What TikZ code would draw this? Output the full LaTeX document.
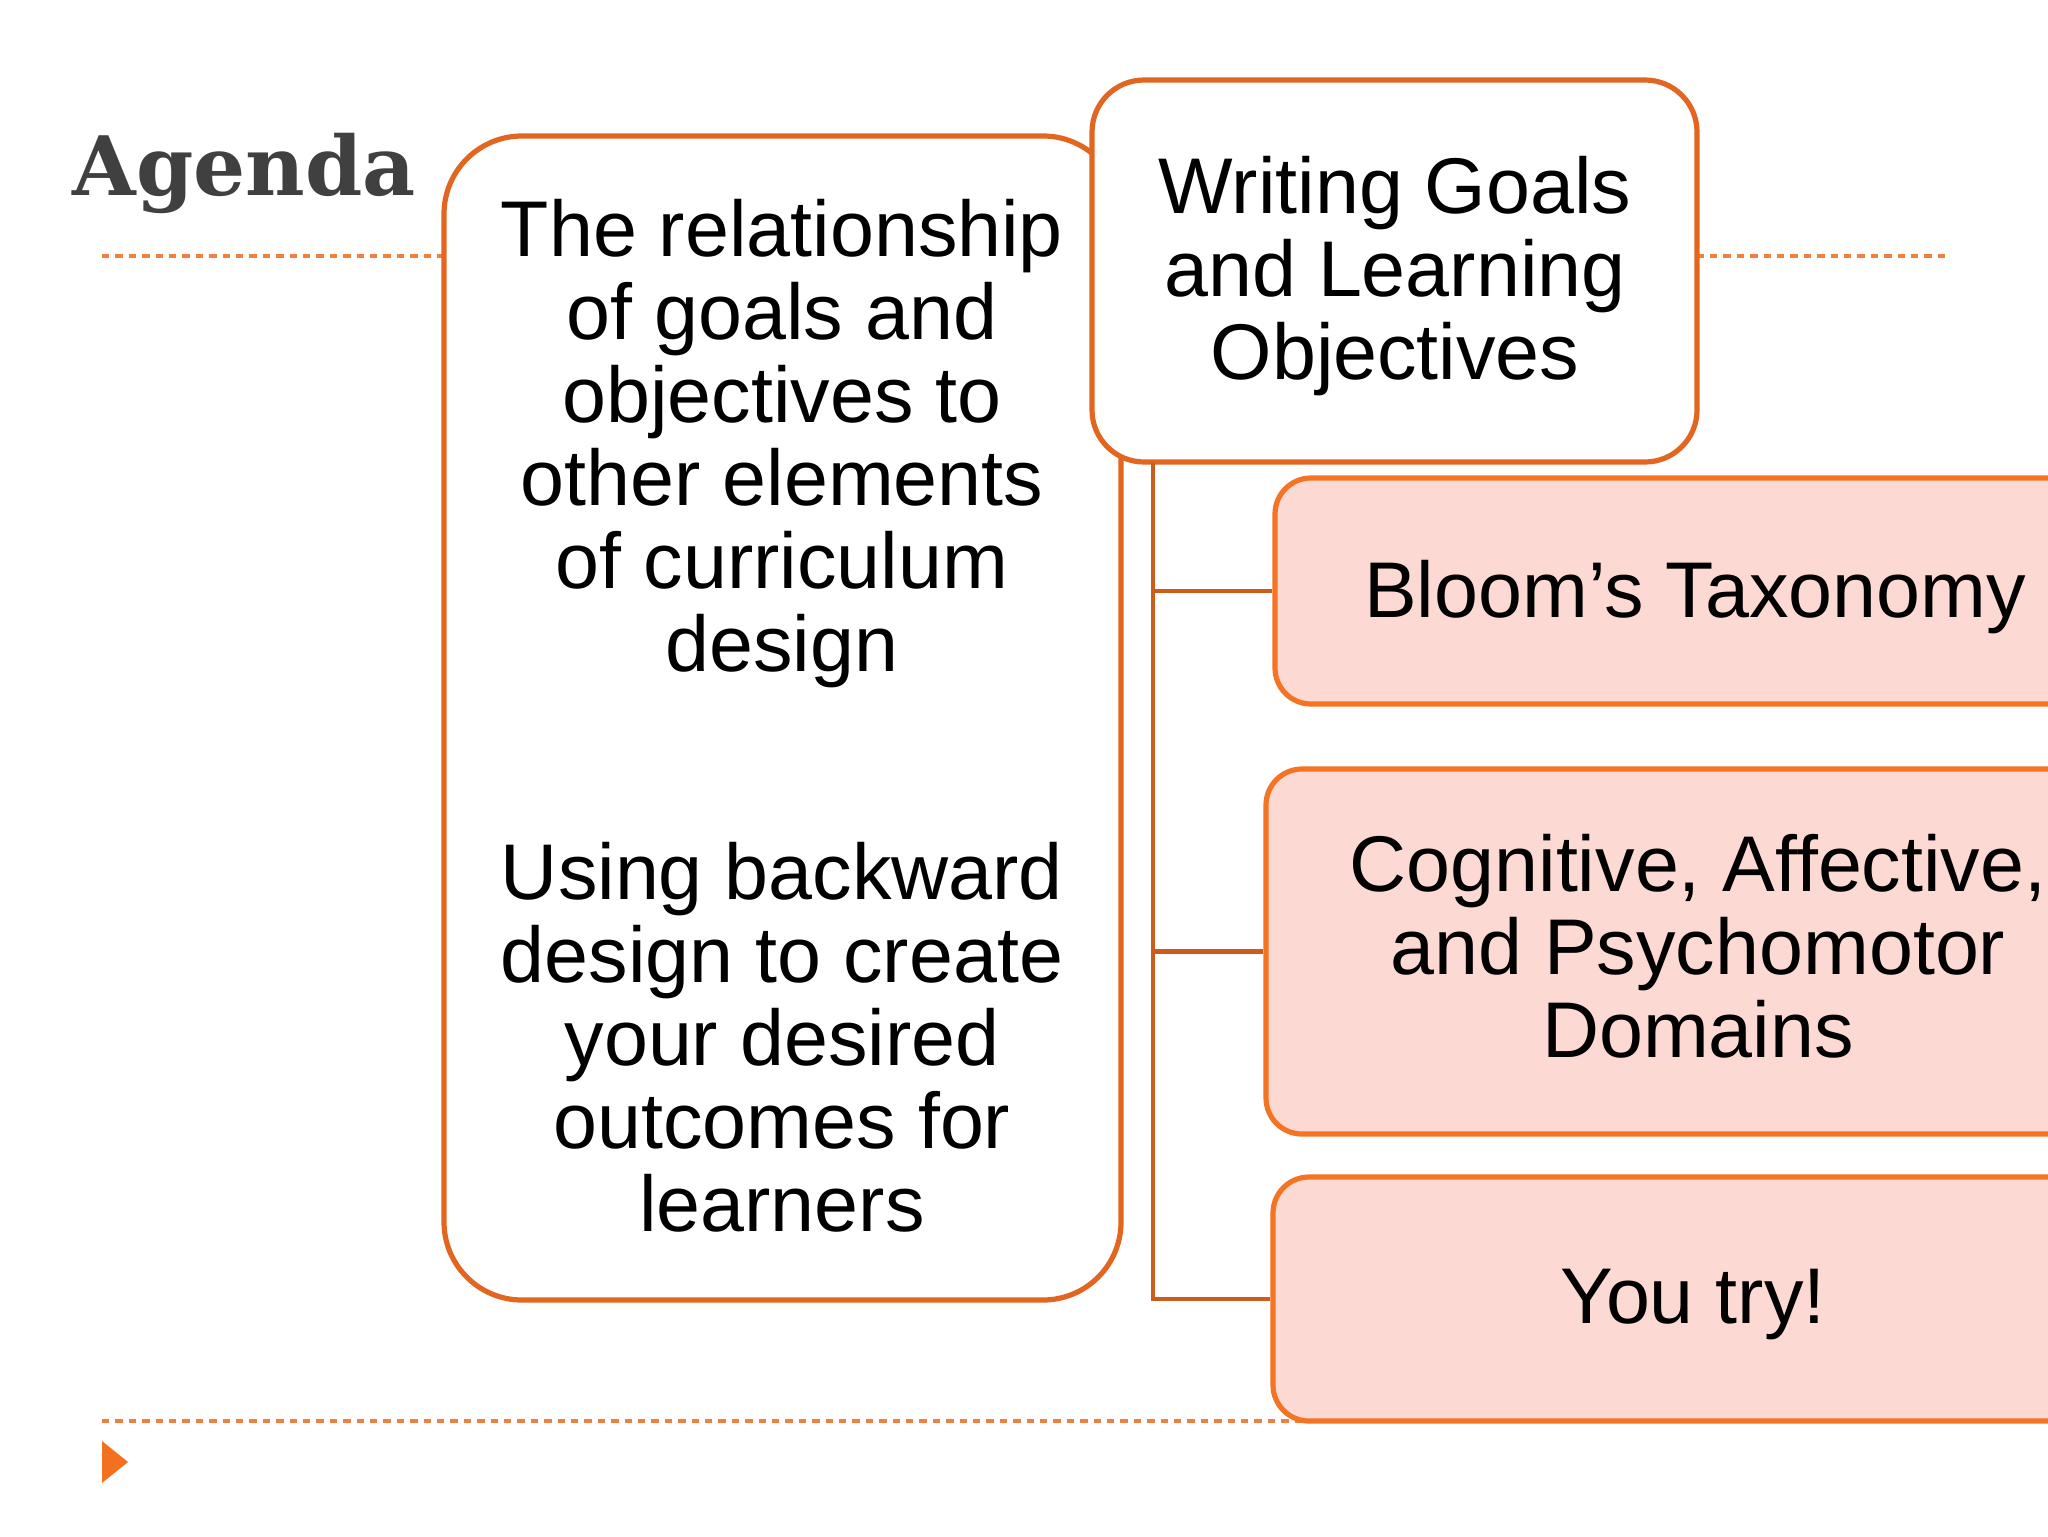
\documentclass[tikz,border=0pt]{standalone}
\usepackage{fontspec}
\setmainfont{Liberation Sans}
\newfontfamily\titlefont{DejaVu Serif}
\definecolor{boxline}{HTML}{E2661F}
\definecolor{pinkline}{HTML}{F47423}
\definecolor{pinkfill}{HTML}{FCD9D3}
\definecolor{connline}{HTML}{CC5C1C}
\definecolor{dashline}{HTML}{EE8040}
\definecolor{triorange}{HTML}{F37021}
\definecolor{titlegray}{HTML}{404040}
\tikzset{
  whitebox/.style={draw=boxline, line width=2.6pt, fill=white, rectangle, inner sep=0pt},
  pinkbox/.style={draw=pinkline, line width=2.6pt, fill=pinkfill, rectangle, rounded corners=18pt, inner sep=0pt},
  bodytext/.style={align=center, inner sep=0pt, anchor=base, font=\fontsize{39.5}{41.5}\selectfont},
  conn/.style={draw=connline, line width=2.2pt},
  rule/.style={draw=dashline, line width=1.6pt, dash pattern=on 3.7pt off 3pt},
}
\begin{document}
\begin{tikzpicture}[x=0.5pt, y=-0.5pt]
\clip (0,0) rectangle (2048,1536);
\fill[white] (0,0) rectangle (2048,1536);
% rules
\coordinate (r1a) at (102,256);
\coordinate (r1b) at (1946,256);
\coordinate (r2a) at (102,1421);
\coordinate (r2b) at (1946,1421);
\draw[rule] (r1a) -- (r1b);
\draw[rule] (r2a) -- (r2b);
% title
\node[anchor=base west, inner sep=0pt, text=titlegray, font=\titlefont\bfseries\fontsize{41}{45}\selectfont] (title) at (72,195) {Agenda};
% triangle marker
\fill[triorange] (102,1441) -- (102,1483) -- (128,1462) -- cycle;
% left box
\node[whitebox, rounded corners=39pt, minimum width=338.5pt, minimum height=582pt] (left) at (782.5,718) {};
\node[bodytext] (lefttxt1) at (782,671) {The relationship\\of goals and\\objectives to\\other elements\\of curriculum\\design};
\node[bodytext] (lefttxt2) at (782,1231) {Using backward\\design to create\\your desired\\outcomes for\\learners};
% top box
\node[whitebox, rounded corners=26pt, minimum width=302.5pt, minimum height=191pt] (top) at (1394.5,271) {};
\node[bodytext] (toptxt) at (1395,379) {Writing Goals\\and Learning\\Objectives};
% pink boxes
\node[pinkbox, minimum width=420pt, minimum height=113pt] (bloom) at (1695,591) {};
\node[bodytext] (bloomtxt) at (1695,617) {Bloom’s Taxonomy};
\node[pinkbox, minimum width=432pt, minimum height=182.5pt] (cog) at (1698,951.5) {};
\node[bodytext] (cogtxt) at (1698,1057) {Cognitive, Affective,\\and Psychomotor\\Domains};
\node[pinkbox, minimum width=420pt, minimum height=122pt] (youtry) at (1693,1299) {};
\node[bodytext] (youtrytxt) at (1693,1323) {You try!};
% connectors
\coordinate (trunk) at (1153,462);
\draw[conn] (trunk) |- (youtry.west);
\draw[conn] (trunk |- bloom.west) -- (bloom.west);
\draw[conn] (trunk |- cog.west) -- (cog.west);
\end{tikzpicture}
\end{document}
